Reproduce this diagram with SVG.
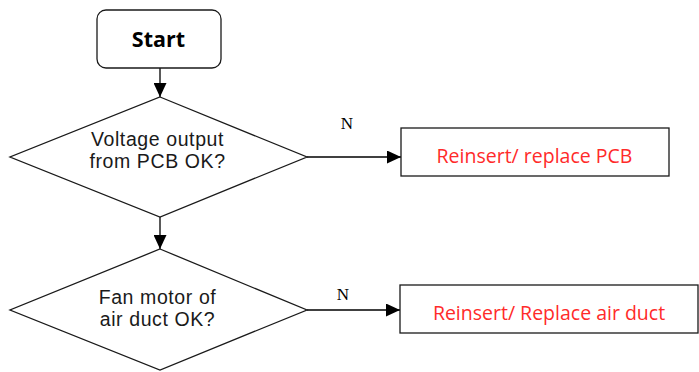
<svg xmlns="http://www.w3.org/2000/svg" width="699" height="372" viewBox="0 0 699 372">
<defs>
<marker id="ah" markerWidth="14" markerHeight="13" refX="14" refY="6.5" orient="auto" markerUnits="userSpaceOnUse" viewBox="0 0 14 13">
<path d="M0,0 L14,6.5 L0,13 z" fill="#000"/>
</marker>
<style>
.shape{fill:#fff;stroke:#1a1a1a;stroke-width:1.3}
.conn{stroke:#000;stroke-width:1.3;fill:none}
.t{font-family:"Liberation Sans",Arial,sans-serif;font-size:19.5px;letter-spacing:0.6px;fill:#1a1a1a;text-anchor:middle}
.r{font-family:"Open Sans","Noto Sans",sans-serif;font-size:19.5px;fill:#ff2a2a;text-anchor:middle}
.n{font-family:"Liberation Serif",serif;font-size:17px;fill:#000;text-anchor:middle}
</style>
</defs>
<rect width="699" height="372" fill="#fff"/>
<g id="connectors">
<line class="conn" x1="160" y1="68" x2="160" y2="97" marker-end="url(#ah)"/>
<line class="conn" x1="307" y1="157" x2="401" y2="157" marker-end="url(#ah)"/>
<line class="conn" x1="160" y1="217" x2="160" y2="249" marker-end="url(#ah)"/>
<line class="conn" x1="307" y1="310" x2="400" y2="310" marker-end="url(#ah)"/>
<text class="n" x="347" y="129">N</text>
<text class="n" x="343" y="300">N</text>
</g>
<g id="start">
<rect class="shape" x="97" y="10" width="124" height="58" rx="9"/>
<text x="158.5" y="47" style="font-family:'Open Sans','Noto Sans',sans-serif;font-size:21.5px;font-weight:bold;text-anchor:middle;fill:#000">Start</text>
</g>
<g id="d1">
<polygon class="shape" points="160,97 307,157 160,217 10,157"/>
<text class="t" x="157.5" y="145.5">Voltage output</text>
<text class="t" x="157.5" y="168">from PCB OK?</text>
</g>
<g id="b1">
<rect class="shape" x="401" y="128" width="268" height="48"/>
<text class="r" x="534.5" y="163">Reinsert/ replace PCB</text>
</g>
<g id="d2">
<polygon class="shape" points="160,249 307,310 160,370 10,310"/>
<text class="t" x="157.5" y="303.5">Fan motor of</text>
<text class="t" x="157.5" y="326">air duct OK?</text>
</g>
<g id="b2">
<rect class="shape" x="400" y="285" width="298" height="48"/>
<text class="r" x="549" y="320">Reinsert/ Replace air duct</text>
</g>
</svg>
